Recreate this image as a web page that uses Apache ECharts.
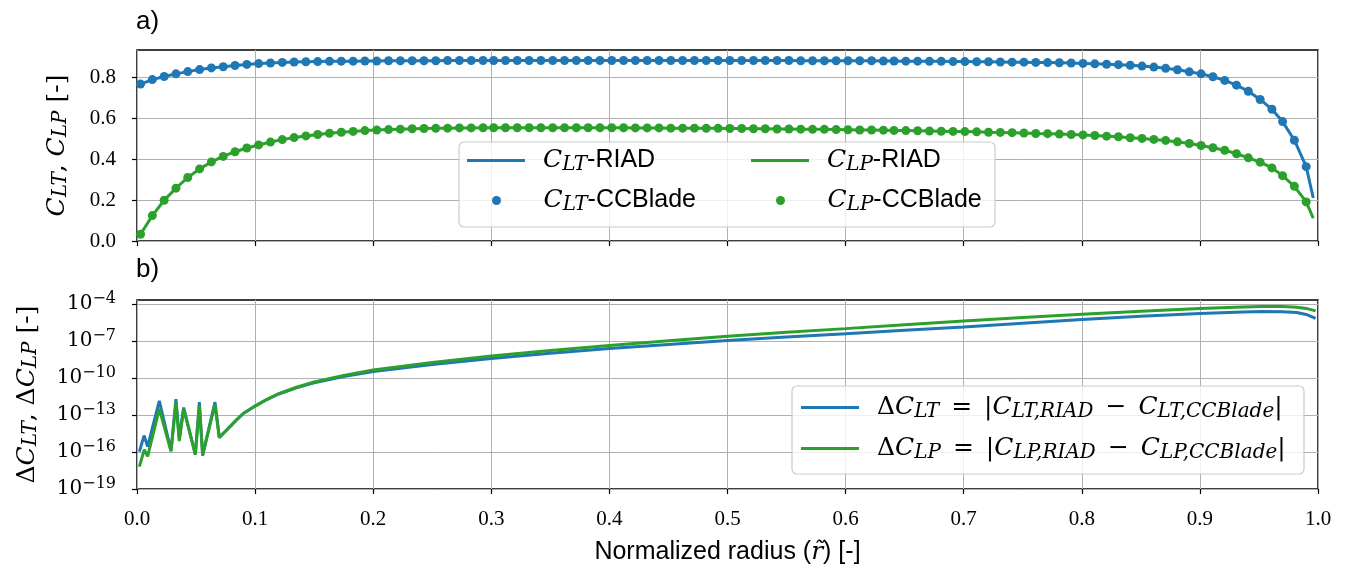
<!DOCTYPE html>
<html><head><meta charset="utf-8">
<script src="https://cdn.jsdelivr.net/npm/echarts@6/dist/echarts.min.js"></script>
<style>html,body{margin:0;padding:0;background:#fff}#c{width:1349px;height:574px}</style>
</head><body><div id="c"></div>
<script>
// ---------- data ----------
const rDots = [0.003,0.013,0.023,0.033,0.043,0.053,0.063,0.073,0.083,0.093,0.103,0.113,0.123,0.133,0.143,0.153,0.163,0.173,0.183,0.193,0.203,0.213,0.223,0.233,0.243,0.253,0.263,0.273,0.283,0.293,
0.302,0.312,0.322,0.332,0.342,0.352,0.362,0.372,0.382,0.392,0.402,0.412,0.422,0.432,0.442,0.452,0.462,0.472,0.482,0.492,0.502,0.512,0.522,0.532,0.542,0.552,0.562,0.572,0.582,0.592,0.602,0.612,0.622,0.632,
0.641,0.651,0.661,0.671,0.681,0.691,0.701,0.711,0.721,0.731,0.741,0.751,0.761,0.771,0.781,0.791,0.801,0.811,0.821,0.831,0.841,0.851,0.861,0.871,0.881,0.891,0.901,0.911,0.921,0.931,0.941,0.951,0.961,
0.970,0.980,0.990];
const cltDots = [0.766,0.788,0.803,0.816,0.827,0.837,0.845,0.851,0.857,0.862,0.866,0.869,0.872,0.874,
0.875,0.876,0.877,0.878,0.878,0.879,
0.879,0.880,0.880,0.880,0.880,0.880,0.881,0.881,0.881,0.881,
0.881,0.881,0.881,0.881,0.881,0.881,0.881,0.881,0.881,0.881,0.881,0.881,0.881,0.881,0.881,0.881,0.881,0.881,0.881,0.881,0.881,0.881,0.881,0.881,0.881,0.881,
0.880,0.880,0.880,0.880,0.880,0.880,0.880,
0.879,0.879,0.878,0.878,0.877,0.877,0.876,
0.876,0.875,0.875,0.874,0.873,0.873,0.872,0.871,0.870,0.869,0.867,0.865,
0.863,0.861,0.858,0.854,0.849,0.843,0.836,0.826,0.816,0.802,0.784,0.761,0.731,0.691,0.643,0.583,0.492,0.363];
const clpDots = [0.033,0.124,0.199,0.258,0.310,0.352,0.386,0.413,0.436,0.454,0.469,0.483,0.495,0.505,
0.513,0.520,0.526,0.531,0.535,0.539,0.542,
0.544,0.546,0.548,0.549,0.550,0.551,0.552,0.552,0.553,0.553,
0.553,0.553,0.553,0.553,0.553,0.553,0.553,0.553,0.553,0.553,
0.553,0.552,0.552,0.552,0.551,
0.551,0.551,0.550,0.550,0.549,0.549,0.548,0.548,0.547,0.547,
0.546,0.545,0.545,0.544,0.543,0.542,0.542,0.541,0.540,0.539,
0.538,0.537,0.536,0.535,0.534,0.533,0.531,0.530,0.529,0.527,
0.525,0.524,0.522,0.520,0.518,0.515,
0.512,0.509,0.504,0.501,0.496,0.491,0.484,0.476,0.466,0.455,0.443,0.426,0.406,0.385,0.357,0.319,0.267,0.191];
// RIAD line: same stations plus the tip point
const rTip = 0.996, cltTip = 0.21, clpTip = 0.111;

// panel b: |difference|, stored as log10 values
const rDCLT = [0.002,0.006,0.009,0.0189,0.0288,0.033,0.0358,0.0395,0.0494,0.0528,0.0556,0.066,0.0697,0.075,0.08,0.085,0.09,0.1,0.11,0.12,0.135,0.15,0.175,0.2,0.25,0.3,0.35,0.4,0.45,0.5,0.55,0.6,0.65,0.7,0.75,0.8,0.85,0.9,0.93,0.952,0.97,0.982,0.99,0.998];
const dCLTlog = [-15.97,-14.67,-15.56,-11.85,-15.9,-11.72,-14.9,-12.4,-16.2,-11.95,-16.3,-11.95,-14.8,-14.3,-13.82,-13.33,-12.88,-12.28,-11.75,-11.3,-10.8,-10.4,-9.88,-9.48,-8.9,-8.42,-8.0,-7.62,-7.28,-6.96,-6.68,-6.42,-6.14,-5.87,-5.56,-5.27,-5.0,-4.78,-4.67,-4.62,-4.63,-4.7,-4.85,-5.17];
const rDCLP = [0.002,0.0062,0.009,0.0189,0.0288,0.033,0.0358,0.0395,0.0494,0.0528,0.0556,0.066,0.0697,0.075,0.08,0.085,0.09,0.1,0.11,0.12,0.135,0.15,0.175,0.2,0.25,0.3,0.35,0.4,0.45,0.5,0.55,0.6,0.65,0.7,0.75,0.8,0.85,0.9,0.93,0.952,0.97,0.982,0.99,0.998];
const dCLPlog = [-17.19,-15.81,-16.36,-12.5,-15.95,-11.95,-15.12,-12.5,-16.22,-12.23,-16.22,-12.15,-14.85,-14.32,-13.82,-13.33,-12.88,-12.28,-11.73,-11.27,-10.75,-10.33,-9.8,-9.36,-8.74,-8.22,-7.78,-7.36,-6.98,-6.62,-6.3,-6.0,-5.68,-5.38,-5.1,-4.84,-4.6,-4.37,-4.26,-4.2,-4.2,-4.26,-4.36,-4.56];

const xTicks = [0,0.1,0.2,0.3,0.4,0.5,0.6,0.7,0.8,0.9,1.0];
const yTicksTop = [0,0.2,0.4,0.6,0.8];
const logTickExps = [-19,-16,-13,-10,-7,-4];

// ---------- styling ----------
const BLUE = '#1f77b4', GREEN = '#2ca02c';
const SERIF = 'Liberation Serif', MATH = 'DejaVu Serif', SANS = 'Liberation Sans';
const R = {
  i: {fontFamily: MATH, fontStyle: 'italic', fontSize: 25, lineHeight: 28, color: '#000'},
  n: {fontFamily: MATH, fontSize: 25, lineHeight: 28, color: '#000'},
  o: {fontFamily: MATH, fontSize: 25, lineHeight: 28, color: '#000', padding: [0, 12, 0, 12]},
  s: {fontFamily: MATH, fontStyle: 'italic', fontSize: 20, lineHeight: 19, verticalAlign: 'bottom', color: '#000'},
  t: {fontFamily: SANS, fontSize: 25, lineHeight: 28, color: '#000'},
  b: {fontFamily: MATH, fontSize: 20, lineHeight: 26, color: '#000'},
  p: {fontFamily: MATH, fontSize: 16, lineHeight: 16, verticalAlign: 'top', color: '#000'}
};
const legendText = {
  'CLT-RIAD': '{i|C}{s|LT}{t|-RIAD}',
  'CLP-RIAD': '{i|C}{s|LP}{t|-RIAD}',
  'CLT-CCBlade': '{i|C}{s|LT}{t|-CCBlade}',
  'CLP-CCBlade': '{i|C}{s|LP}{t|-CCBlade}',
  'dCLT': '{n|Δ}{i|C}{s|LT}{o|=}{n||}{i|C}{s|LT,RIAD}{o|−}{i|C}{s|LT,CCBlade}{n||}',
  'dCLP': '{n|Δ}{i|C}{s|LP}{o|=}{n||}{i|C}{s|LP,RIAD}{o|−}{i|C}{s|LP,CCBlade}{n||}'
};

const zip = (xs, ys) => xs.map((x, k) => [x, ys[k]]);
const zipLog = (xs, es) => xs.map((x, k) => [x, Math.pow(10, es[k])]);

const GRID_LINE = {show: true, lineStyle: {color: '#b0b0b0', width: 1}};
const TICK = {show: true, length: 5, lineStyle: {color: '#000', width: 1.2}};

function oneLegend(name, left, centerY, kind) {
  return {
    left: kind === 'line' ? left : left + 25, top: centerY - 14, padding: 0, orient: 'vertical', selectedMode: false,
    itemWidth: 58, itemHeight: kind === 'line' ? 3 : 9,
    data: [{name: name, icon: kind === 'line' ? 'rect' : 'circle'}],
    formatter: n => legendText[n],
    textStyle: {rich: R, color: '#000', padding: [0, 0, 0, 13]}
  };
}

const chart = echarts.init(document.getElementById('c'), null, {renderer: 'canvas'});
chart.setOption({
  animation: false,
  backgroundColor: '#fff',
  grid: [
    {left: 137, top: 50, width: 1181, height: 191, show: true, borderColor: '#000', borderWidth: 1.5, backgroundColor: 'transparent'},
    {left: 137, top: 300, width: 1181, height: 189, show: true, borderColor: '#000', borderWidth: 1.5, backgroundColor: 'transparent'}
  ],
  xAxis: [
    {type: 'value', gridIndex: 0, min: 0, max: 1, interval: 0.1,
     axisLine: {show: false}, axisTick: TICK, axisLabel: {show: false}, splitLine: GRID_LINE},
    {type: 'value', gridIndex: 1, min: 0, max: 1, interval: 0.1,
     axisLine: {show: false}, axisTick: TICK, splitLine: GRID_LINE,
     axisLabel: {margin: 20, fontFamily: SERIF, fontSize: 21, color: '#000', formatter: v => v.toFixed(1)},
     name: '{t|Normalized radius (}{i|r̃}{t|) [-]}', nameLocation: 'middle', nameGap: 49,
     nameTextStyle: {rich: R}}
  ],
  yAxis: [
    {type: 'value', gridIndex: 0, min: 0, max: 0.9325, interval: 0.2,
     axisLine: {show: false}, axisTick: Object.assign({customValues: yTicksTop}, TICK),
     splitLine: GRID_LINE,
     axisLabel: {customValues: yTicksTop, margin: 21, fontFamily: SERIF, fontSize: 21, color: '#000', formatter: v => v.toFixed(1)},
     name: '{i|C}{s|LT}{n|, }{i|C}{s|LP}{n| [-]}', nameLocation: 'middle', nameRotate: 90, nameGap: 66,
     nameTextStyle: {rich: R}},
    {type: 'log', logBase: 10, gridIndex: 1, min: 1e-19, max: 2.09e-4, interval: 3,
     axisLine: {show: false}, axisTick: Object.assign({customValues: logTickExps.map(e => Math.pow(10, e))}, TICK),
     splitLine: GRID_LINE,
     axisLabel: {customValues: logTickExps.map(e => Math.pow(10, e)), margin: 21, color: '#000',
       formatter: v => { const e = Math.round(Math.log10(v)); return '{b|10}{p|' + (e < 0 ? '−' : '') + Math.abs(e) + '}'; },
       rich: R},
     name: '{n|Δ}{i|C}{s|LT}{n|, Δ}{i|C}{s|LP}{n| [-]}', nameLocation: 'middle', nameRotate: 90, nameGap: 96,
     nameTextStyle: {rich: R}}
  ],
  legend: [
    oneLegend('CLT-RIAD', 467, 162, 'line'),
    oneLegend('CLT-CCBlade', 467, 202, 'dot'),
    oneLegend('CLP-RIAD', 751, 162, 'line'),
    oneLegend('CLP-CCBlade', 751, 202, 'dot'),
    oneLegend('dCLT', 801, 409, 'line'),
    oneLegend('dCLP', 801, 450, 'line')
  ],
  graphic: [
    {type: 'rect', z: 3, shape: {x: 459, y: 142, width: 536, height: 85, r: 5},
     style: {fill: 'rgba(255,255,255,0.8)', stroke: '#cccccc', lineWidth: 1.2}},
    {type: 'rect', z: 3, shape: {x: 792, y: 386, width: 512, height: 88, r: 5},
     style: {fill: 'rgba(255,255,255,0.8)', stroke: '#cccccc', lineWidth: 1.2}},
    {type: 'text', left: 136, top: 9, style: {text: 'a)', font: '26px "Liberation Sans"', fill: '#000'}},
    {type: 'text', left: 136, top: 257, style: {text: 'b)', font: '26px "Liberation Sans"', fill: '#000'}}
  ],
  series: [
    {name: 'CLT-RIAD', type: 'line', xAxisIndex: 0, yAxisIndex: 0, symbol: 'none', z: 2,
     lineStyle: {color: BLUE, width: 3}, itemStyle: {color: BLUE},
     data: zip(rDots.concat([rTip]), cltDots.concat([cltTip]))},
    {name: 'CLP-RIAD', type: 'line', xAxisIndex: 0, yAxisIndex: 0, symbol: 'none', z: 2,
     lineStyle: {color: GREEN, width: 3}, itemStyle: {color: GREEN},
     data: zip(rDots.concat([rTip]), clpDots.concat([clpTip]))},
    {name: 'CLT-CCBlade', type: 'scatter', xAxisIndex: 0, yAxisIndex: 0, symbol: 'circle', symbolSize: 9, symbolKeepAspect: true, z: 2,
     itemStyle: {color: BLUE, opacity: 1}, data: zip(rDots, cltDots)},
    {name: 'CLP-CCBlade', type: 'scatter', xAxisIndex: 0, yAxisIndex: 0, symbol: 'circle', symbolSize: 9, symbolKeepAspect: true, z: 2,
     itemStyle: {color: GREEN, opacity: 1}, data: zip(rDots, clpDots)},
    {name: 'dCLT', type: 'line', xAxisIndex: 1, yAxisIndex: 1, symbol: 'none', z: 2,
     lineStyle: {color: BLUE, width: 3}, itemStyle: {color: BLUE}, data: zipLog(rDCLT, dCLTlog)},
    {name: 'dCLP', type: 'line', xAxisIndex: 1, yAxisIndex: 1, symbol: 'none', z: 2,
     lineStyle: {color: GREEN, width: 3}, itemStyle: {color: GREEN}, data: zipLog(rDCLP, dCLPlog)}
  ]
});
</script></body></html>
